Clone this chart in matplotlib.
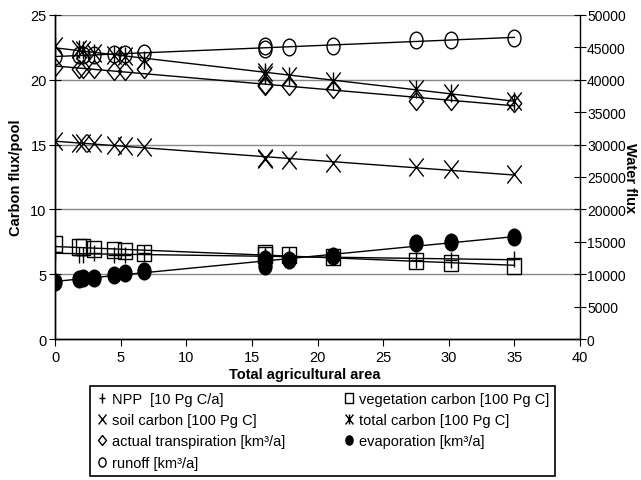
import numpy as np
import matplotlib
matplotlib.use('Agg')
import matplotlib.pyplot as plt
from matplotlib.path import Path

plt.rcParams['font.family'] = ['Liberation Sans Narrow', 'Liberation Sans', 'DejaVu Sans']

# data
area = [0, 1.8, 2.1, 3.0, 4.5, 5.3, 6.8, 16.0, 16.0, 17.8, 21.2, 27.5, 30.2, 35.0]

# carbon series (left axis)
npp = [6.7, 6.5, 6.5, 6.6, 6.5, 6.5, 6.6, 6.4, 6.4, 6.5, 6.3, 6.1, 6.1, 6.2]
veg_carbon = [7.3, 7.1, 7.1, 6.95, 6.9, 6.8, 6.6, 6.6, 6.5, 6.5, 6.3, 6.0, 5.9, 5.6]
soil_carbon = [15.3, 15.1, 15.1, 15.1, 15.0, 14.9, 14.8, 14.0, 13.9, 13.8, 13.6, 13.3, 13.1, 12.7]
total_carbon = [22.6, 22.4, 22.3, 22.1, 21.9, 21.8, 21.5, 20.6, 20.4, 20.3, 19.9, 19.3, 19.0, 18.4]

# water series (right axis, km3/a)
transpiration = [42000, 41600, 41600, 41600, 41400, 41400, 41600, 39100, 39200, 39000, 38600, 36800, 36700, 36400]
evaporation = [8800, 9200, 9400, 9400, 9800, 10200, 10500, 11200, 12400, 12200, 12800, 14800, 15000, 15700]
runoff = [43600, 43800, 43800, 43800, 44000, 44000, 44100, 45200, 44800, 45000, 45200, 46200, 46200, 46400]

labels = ['NPP  [10 Pg C/a]', 'vegetation carbon [100 Pg C]', 'soil carbon [100 Pg C]',
          'total carbon [100 Pg C]', 'actual transpiration [km³/a]', 'evaporation [km³/a]',
          'runoff [km³/a]']

# tall markers (the original picture is squeezed sideways)
M, L = Path.MOVETO, Path.LINETO
circ = Path.unit_circle()
m_circle = Path(circ.vertices * [0.78, 1.0], circ.codes)
m_diamond = Path([(0, 1), (0.8, 0), (0, -1), (-0.8, 0), (0, 1)], closed=True)
m_square = Path([(-0.8, -1), (0.8, -1), (0.8, 1), (-0.8, 1), (-0.8, -1)], closed=True)
m_x = Path([(-0.8, -1), (0.8, 1), (-0.8, 1), (0.8, -1)], [M, L, M, L])
m_star = Path([(-0.8, -1), (0.8, 1), (-0.8, 1), (0.8, -1), (0, -1), (0, 1)], [M, L, M, L, M, L])
m_plus = Path([(-0.7, 0), (0.7, 0), (0, -1), (0, 1)], [M, L, M, L])

fig = plt.figure(figsize=(6.41, 4.81), dpi=100)
ax = fig.add_axes([55/641, 1-340/481, 525/641, 324/481])
ax2 = ax.twinx()

x = np.array(area)
xx = np.array([0, 35])

def series(a, y, mk, ms, filled, lab):
    y = np.array(y)
    k, b = np.polyfit(x, y, 1)
    a.plot(xx, k*xx + b, color='black', lw=1, zorder=2)
    h, = a.plot(x, y, ls='none', marker=mk, ms=ms, mec='black', mew=1,
                mfc='black' if filled else 'none', label=lab, zorder=3)
    return h

h_npp = series(ax, npp, m_plus, 12, False, labels[0])
h_veg = series(ax, veg_carbon, m_square, 12, False, labels[1])
h_soil = series(ax, soil_carbon, m_x, 13, False, labels[2])
h_tot = series(ax, total_carbon, m_star, 13, False, labels[3])
h_tr = series(ax2, transpiration, m_diamond, 13, False, labels[4])
h_ev = series(ax2, evaporation, m_circle, 12, True, labels[5])
h_ro = series(ax2, runoff, m_circle, 12, False, labels[6])

ax.set_xlim(0, 40)
ax.set_ylim(0, 25)
ax2.set_ylim(0, 50000)
ax.set_xticks(np.arange(0, 41, 5))
ax.set_yticks(np.arange(0, 26, 5))
ax2.set_yticks(np.arange(0, 50001, 5000))

for yv in np.arange(5, 26, 5):
    ax.axhline(yv, color='#888888', lw=1, zorder=1)

for a in (ax, ax2):
    a.spines['top'].set_visible(False)
    for s in a.spines.values():
        s.set_linewidth(1)
ax.spines['right'].set_visible(False)

fs = 10.5
ax.tick_params(axis='y', direction='inout', length=8, labelsize=fs, pad=2)
ax.tick_params(axis='x', direction='out', length=5, labelsize=fs, pad=3)
ax2.tick_params(axis='y', direction='inout', length=8, labelsize=10, pad=1)

ax.set_xlabel('Total agricultural area', fontsize=fs, fontweight='bold')
ax.xaxis.set_label_coords(0.475, -0.085)
ax.set_ylabel('Carbon flux/pool', fontsize=fs, fontweight='bold', labelpad=5)
ax2.set_ylabel('Water flux', fontsize=fs, fontweight='bold', rotation=-90, va='center')
ax2.yaxis.set_label_coords(1.095, 0.5)

handles = [h_npp, h_soil, h_tr, h_ro, h_veg, h_tot, h_ev]
top = 1 - 387/481
leg = fig.legend(handles, [h.get_label() for h in handles], ncol=2,
                 loc='upper left', bbox_to_anchor=(90/641, top - 0.18, 465/641, 0.18),
                 mode='expand', borderaxespad=0, fontsize=fs, markerscale=0.55,
                 handlelength=0.8, handletextpad=0.3, labelspacing=0.5, borderpad=0.4,
                 fancybox=False, framealpha=1, edgecolor='black')
leg.get_frame().set_linewidth(1.2)

fig.savefig('out.png', dpi=100)
